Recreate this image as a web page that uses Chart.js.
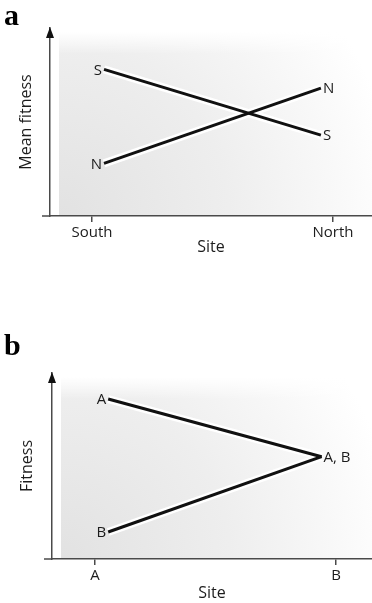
<!DOCTYPE html>
<html>
<head>
<meta charset="utf-8">
<script src="https://cdn.jsdelivr.net/npm/chart.js@4.4.0/dist/chart.umd.min.js"></script>
<style>
html, body { margin: 0; padding: 0; background: #fff; width: 372px; height: 603px; overflow: hidden; }
.panel { position: absolute; left: 0; width: 372px; }
#panelA { top: 0; height: 262px; }
#panelB { top: 330px; height: 273px; }
</style>
</head>
<body>
<div class="panel" id="panelA"><canvas id="chartA"></canvas></div>
<div class="panel" id="panelB"><canvas id="chartB"></canvas></div>
<script>
// panel a: mean fitness of S and N populations at two sites
const sitesA = ['South', 'North'];
const xPosA = [0.05, 0.95];
const southPop = [7.8, 4.3];
const northPop = [2.8, 6.8];
const southLabels = ['S', 'S'];
const northLabels = ['N', 'N'];

// panel b: fitness of A and B at two sites
const sitesB = ['A', 'B'];
const xPosB = [0.055, 0.94];
const popA = [8.6, 5.5];
const popB = [1.45, 5.5];
const popALabels = ['A', 'A, B'];
const popBLabels = ['B', ''];

const FONT = "'Open Sans', 'Noto Sans', sans-serif";
const AXIS = '#4a4a4a';
const TEXT = '#1c1c1c';

function pts(xs, ys) {
    return xs.map((x, i) => ({ x: x, y: ys[i] }));
}

const panelPlugin = {
    id: 'panel',
    beforeDraw(chart, args, opts) {
        const ctx = chart.ctx;
        const a = chart.chartArea;
        const x0 = a.left + 9, y0 = a.top + 4;
        const w = a.right - x0, h = a.bottom - 1 - y0;
        // soft grey shading, darkest in the lower left corner
        const g = ctx.createRadialGradient(a.left + 10, a.bottom, 0, a.left + 10, a.bottom, (a.right - a.left) * 1.05);
        g.addColorStop(0, '#e2e2e2');
        g.addColorStop(0.5, '#eeeeee');
        g.addColorStop(0.8, '#f8f8f8');
        g.addColorStop(1, '#ffffff');
        ctx.save();
        ctx.fillStyle = g;
        ctx.fillRect(x0, y0, w, h);
        // fade the top edge into white
        const f = ctx.createLinearGradient(0, y0, 0, y0 + 22);
        f.addColorStop(0, 'rgba(255,255,255,1)');
        f.addColorStop(1, 'rgba(255,255,255,0)');
        ctx.fillStyle = f;
        ctx.fillRect(x0, y0, w, 22);
        ctx.restore();
    },
    afterDraw(chart, args, opts) {
        const ctx = chart.ctx;
        const a = chart.chartArea;
        ctx.save();
        // axis arrow
        ctx.fillStyle = '#111';
        ctx.beginPath();
        ctx.moveTo(a.left, a.top - 1);
        ctx.lineTo(a.left - 4, a.top + 10);
        ctx.lineTo(a.left + 4, a.top + 10);
        ctx.closePath();
        ctx.fill();
        // x axis continues a little left of the y axis
        ctx.strokeStyle = AXIS;
        ctx.lineWidth = 1.5;
        ctx.beginPath();
        ctx.moveTo(a.left - 8, a.bottom);
        ctx.lineTo(a.left, a.bottom);
        ctx.stroke();
        // line end labels
        ctx.fillStyle = TEXT;
        ctx.font = '15px ' + FONT;
        ctx.textBaseline = 'middle';
        chart.data.datasets.forEach((ds, i) => {
            if (!ds.endLabels) return;
            const meta = chart.getDatasetMeta(i);
            meta.data.forEach((p, j) => {
                const t = ds.endLabels[j];
                if (!t) return;
                if (j === 0) {
                    ctx.textAlign = 'right';
                    ctx.fillText(t, p.x - 2, p.y + 1);
                } else {
                    ctx.textAlign = 'left';
                    ctx.fillText(t, p.x + 2, p.y + 1);
                }
            });
        });
        // panel letter
        ctx.font = 'bold 30px "Liberation Serif", serif';
        ctx.textAlign = 'left';
        ctx.textBaseline = 'alphabetic';
        ctx.fillStyle = '#000';
        ctx.fillText(opts.letter, opts.letterX, opts.letterY);
        ctx.restore();
    }
};

function makeChart(id, cfg) {
    const datasets = [];
    cfg.series.forEach(s => {
        datasets.push({
            data: pts(cfg.xPos, s.values),
            endLabels: s.labels,
            borderColor: '#111',
            borderWidth: 3,
            pointRadius: 0,
            order: 1
        });
    });
    // white halo under each line
    cfg.series.forEach(s => {
        datasets.push({
            data: pts(cfg.xPos, s.values),
            borderColor: '#ffffff',
            borderWidth: 8,
            pointRadius: 0,
            order: 2
        });
    });

    return new Chart(document.getElementById(id), {
        type: 'line',
        data: { datasets: datasets },
        options: {
            responsive: true,
            maintainAspectRatio: false,
            animation: false,
            layout: { padding: { top: cfg.top, left: 0, right: 0, bottom: 0 } },
            plugins: {
                legend: { display: false },
                tooltip: { enabled: false },
                panel: { letter: cfg.letter, letterX: 4, letterY: cfg.letterY }
            },
            scales: {
                x: {
                    type: 'linear',
                    min: cfg.xMin,
                    max: cfg.xMax,
                    afterBuildTicks: s => { s.ticks = [{ value: 0 }, { value: 1 }]; },
                    afterFit: s => { s.height = cfg.xHeight; },
                    ticks: {
                        callback: (v, i) => cfg.sites[i],
                        color: TEXT,
                        font: { family: FONT, size: 15 },
                        padding: 2,
                        maxRotation: 0
                    },
                    grid: { display: true, drawOnChartArea: false, drawTicks: true, tickLength: 6, color: AXIS, lineWidth: 1.5 },
                    border: { display: true, color: AXIS, width: 1.5 },
                    title: {
                        display: true,
                        text: 'Site',
                        color: TEXT,
                        font: { family: FONT, size: 16 },
                        padding: { top: 0, bottom: cfg.siteBottom }
                    }
                },
                y: {
                    type: 'linear',
                    min: 0,
                    max: 10,
                    afterFit: s => { s.width = cfg.yLeft; },
                    ticks: { display: false },
                    grid: { display: false },
                    border: { display: true, color: AXIS, width: 1.5 },
                    title: {
                        display: true,
                        text: cfg.yTitle,
                        color: TEXT,
                        font: { family: FONT, size: 16 },
                        padding: { top: cfg.yTitlePad, bottom: 0 }
                    }
                }
            }
        },
        plugins: [panelPlugin]
    });
}

makeChart('chartA', {
    letter: 'a', letterY: 25,
    top: 28, xHeight: 46, yLeft: 50, yTitlePad: 17, siteBottom: 5,
    xMin: -0.174, xMax: 1.162,
    sites: sitesA, xPos: xPosA, yTitle: 'Mean fitness',
    series: [
        { values: southPop, labels: southLabels },
        { values: northPop, labels: northLabels }
    ]
});

makeChart('chartB', {
    letter: 'b', letterY: 25,
    top: 43, xHeight: 44, yLeft: 52, yTitlePad: 18, siteBottom: 0,
    xMin: -0.178, xMax: 1.149,
    sites: sitesB, xPos: xPosB, yTitle: 'Fitness',
    series: [
        { values: popA, labels: popALabels },
        { values: popB, labels: popBLabels }
    ]
});
</script>
</body>
</html>
